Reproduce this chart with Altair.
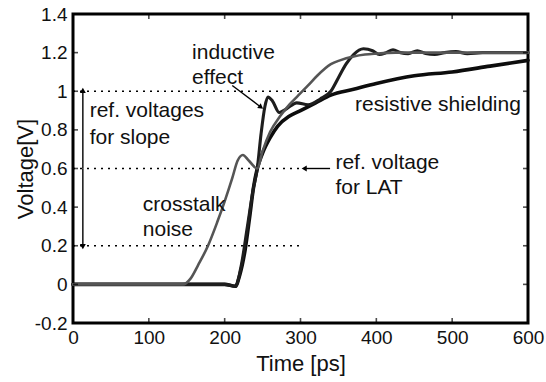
import altair as alt
import pandas as pd

# ---- data ----
res_t = [0, 200, 214, 220, 227, 233, 238, 243, 250, 260, 270, 285, 300, 320, 340, 370, 400, 450, 500, 550, 600]
res_v = [0, 0, -0.01, 0.05, 0.18, 0.35, 0.5, 0.6, 0.68, 0.76, 0.82, 0.87, 0.9, 0.94, 0.98, 1.01, 1.04, 1.08, 1.10, 1.13, 1.16]

ind_t = [0, 200, 214, 222, 230, 238, 243, 248, 253, 257, 263, 272, 282, 295, 310, 326, 340, 350, 360, 370, 383,
         395, 404, 413, 422, 432, 442, 454, 465, 477, 490, 505, 520, 540, 560, 580, 600]
ind_v = [0, 0, -0.01, 0.1, 0.3, 0.5, 0.6, 0.78, 0.92, 0.97, 0.95, 0.89, 0.91, 0.94, 0.93, 0.96, 1.0, 1.07, 1.14, 1.19, 1.22,
         1.21, 1.19, 1.2, 1.215, 1.2, 1.195, 1.21, 1.195, 1.19, 1.2, 1.205, 1.195, 1.2, 1.2, 1.2, 1.2]

xt_t = [0, 130, 145, 155, 165, 178, 190, 200, 210, 217, 224, 232, 243, 250, 260, 273, 285, 295, 310, 322, 340,
        352, 370, 385, 400, 425, 450, 500, 550, 600]
xt_v = [0, 0, 0, 0.03, 0.1, 0.2, 0.32, 0.43, 0.55, 0.64, 0.67, 0.64, 0.6, 0.69, 0.79, 0.87, 0.93, 0.97, 1.03, 1.08, 1.14,
        1.16, 1.18, 1.19, 1.195, 1.2, 1.2, 1.2, 1.2, 1.2]

x_ticks = [0, 100, 200, 300, 400, 500, 600]
y_ticks = [-0.2, 0, 0.2, 0.4, 0.6, 0.8, 1.0, 1.2, 1.4]

# reference levels: (voltage, end time)
ref_v = [1.0, 0.6, 0.2]
ref_end = [335, 300, 300]

ann_text = ["inductive", "effect", "ref. voltages", "for slope", "ref. voltage", "for LAT",
            "resistive shielding", "crosstalk", "noise"]
ann_t = [157, 157, 22, 22, 346, 346, 372, 92, 92]
ann_v = [1.2, 1.07, 0.9, 0.76, 0.63, 0.50, 0.93, 0.41, 0.28]

# arrows: start (t, v) -> end (t, v) with head at end
arr_t1 = [210, 339, 13, 13]
arr_v1 = [1.03, 0.6, 0.6, 0.6]
arr_t2 = [247, 306, 13, 13]
arr_v2 = [0.92, 0.6, 1.0, 0.2]
arr_angle = [127, 270, 0, 180]

FONT = "Liberation Sans"

curves = pd.concat([
    pd.DataFrame({"t": res_t, "v": res_v, "s": "resistive", "o": 0}),
    pd.DataFrame({"t": ind_t, "v": ind_v, "s": "inductive", "o": 1}),
    pd.DataFrame({"t": xt_t, "v": xt_v, "s": "crosstalk", "o": 2}),
])

xs = alt.Scale(domain=[0, 600], nice=False, zero=False)
ys = alt.Scale(domain=[-0.2, 1.4], nice=False, zero=False)

x_axis = alt.Axis(values=x_ticks, format="d", labelFlush=False, title="Time [ps]",
                  labelPadding=5, titlePadding=6)
y_axis = alt.Axis(values=y_ticks, labelFlush=False, title="Voltage[V]",
                  labelExpr="replace(format(datum.value, '.1~f'), '\u2212', '-')",
                  labelPadding=6, titlePadding=-3)

base_x = alt.X("t:Q", scale=xs, axis=x_axis)
base_y = alt.Y("v:Q", scale=ys, axis=y_axis)

refs = pd.DataFrame({"v": ref_v, "t": [0] * 3, "t2": ref_end})
ref_layer = alt.Chart(refs).mark_rule(color="black", strokeWidth=1.3, strokeDash=[2, 5]).encode(
    x=base_x, x2="t2:Q", y=base_y)

lines = alt.Chart(curves).mark_line(interpolate="monotone", strokeJoin="round", strokeCap="round").encode(
    x=base_x, y=base_y,
    detail="s:N",
    order="o:Q",
    color=alt.Color("s:N", scale=alt.Scale(domain=["resistive", "inductive", "crosstalk"],
                                            range=["#0d0d0d", "#1e1e1e", "#555555"]), legend=None),
    strokeWidth=alt.StrokeWidth("s:N", scale=alt.Scale(domain=["resistive", "inductive", "crosstalk"],
                                                       range=[3.6, 2.6, 2.6]), legend=None),
)

arrows = pd.DataFrame({"t": arr_t1, "v": arr_v1, "t2": arr_t2, "v2": arr_v2, "a": arr_angle})
arrow_lines = alt.Chart(arrows).mark_rule(color="black", strokeWidth=1.4).encode(
    x=base_x, y=base_y, x2="t2:Q", y2="v2:Q")
arrow_heads = alt.Chart(arrows).mark_point(shape="triangle", filled=True, color="black", size=35, opacity=1).encode(
    x=alt.X("t2:Q", scale=xs, axis=x_axis), y=alt.Y("v2:Q", scale=ys, axis=y_axis),
    angle=alt.Angle("a:Q", scale=None))

ann = pd.DataFrame({"t": ann_t, "v": ann_v, "label": ann_text})
texts = alt.Chart(ann).mark_text(align="left", baseline="middle", font=FONT, fontSize=21, color="#111").encode(
    x=base_x, y=base_y, text="label:N")

xt = pd.DataFrame({"t": x_ticks})
yt = pd.DataFrame({"v": y_ticks})
tick_b = alt.Chart(xt).mark_tick(orient="vertical", size=10, thickness=1.6, color="black", clip=True).encode(
    x=base_x, y=alt.value(309))
tick_t = alt.Chart(xt).mark_tick(orient="vertical", size=10, thickness=1.6, color="black", clip=True).encode(
    x=base_x, y=alt.value(0))
tick_l = alt.Chart(yt).mark_tick(orient="horizontal", size=10, thickness=1.6, color="black", clip=True).encode(
    y=base_y, x=alt.value(0))
tick_r = alt.Chart(yt).mark_tick(orient="horizontal", size=10, thickness=1.6, color="black", clip=True).encode(
    y=base_y, x=alt.value(455))

chart = alt.layer(ref_layer, lines, arrow_lines, arrow_heads, texts, tick_b, tick_t, tick_l, tick_r).properties(
    width=455, height=309,
    autosize=alt.AutoSizeParams(type="none"),
    padding={"left": 73, "top": 14, "right": 18, "bottom": 59},
    background="white",
).configure_view(
    stroke="black", strokeWidth=3
).configure_axis(
    grid=False, domain=False, ticks=False, tickSize=0,
    labelFont=FONT, labelFontSize=19, labelColor="#111",
    titleFont=FONT, titleFontSize=22, titleFontWeight="normal", titleColor="#111",
)

chart.save("out.html", embed_options={"renderer": "svg", "actions": False})
